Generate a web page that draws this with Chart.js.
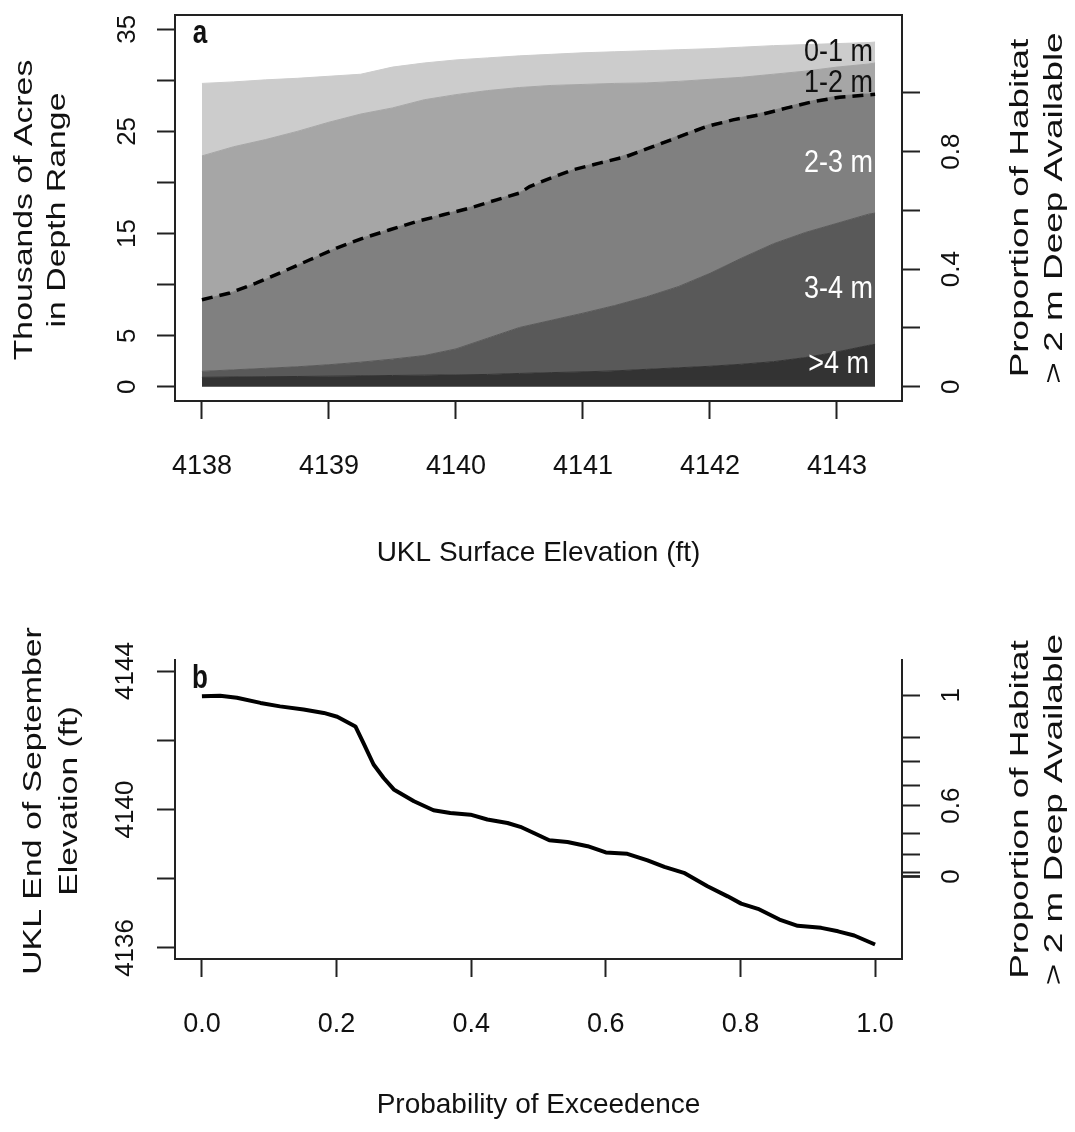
<!DOCTYPE html>
<html>
<head>
<meta charset="utf-8">
<title>UKL depth habitat</title>
<script src="https://cdn.jsdelivr.net/npm/chart.js@4.4.1/dist/chart.umd.min.js"></script>
<style>
  html, body { margin: 0; padding: 0; background: #fff; }
  canvas { display: block; }
</style>
</head>
<body>
<canvas id="chartA" width="1075" height="580"></canvas>
<canvas id="chartB" width="1075" height="552"></canvas>
<script>
const FONT = '"Liberation Sans", Arial, Helvetica, sans-serif';
const INK = '#222';

// ---------- panel a: thousands of acres in each depth range ----------
const elevA     = [4138, 4138.25, 4138.5, 4138.75, 4139, 4139.25, 4139.5, 4139.75, 4140, 4140.25, 4140.5, 4140.75,
                   4141, 4141.25, 4141.5, 4141.75, 4142, 4142.25, 4142.5, 4142.75, 4143, 4143.25, 4143.3];
const acresGt4  = [0.92, 0.95, 0.98, 1.0, 1.03, 1.06, 1.1, 1.13, 1.16, 1.2, 1.3, 1.38, 1.45, 1.55, 1.7, 1.85, 2.0, 2.2, 2.45, 2.85, 3.4, 4.05, 4.15];
const acres3to4 = [0.58, 0.70, 0.82, 0.95, 1.12, 1.34, 1.6, 1.92, 2.54, 3.55, 4.5, 5.12, 5.75, 6.4, 7.1, 7.95, 9.1, 10.4, 11.55, 12.25, 12.6, 12.85, 12.85];
const acres2to3 = [6.98, 7.63, 8.7, 9.92, 11.11, 12.1, 12.78, 13.35, 13.47, 13.3, 13.2, 14.0, 14.35, 14.38, 14.57, 14.76, 14.6, 13.78, 13.06, 12.75, 12.46, 11.78, 11.7];
const acres1to2 = [14.12, 14.22, 13.7, 13.13, 12.64, 12.2, 11.82, 11.7, 11.43, 10.95, 10.3, 9.0, 8.05, 7.37, 6.38, 5.34, 4.4, 3.92, 3.54, 3.05, 2.84, 2.92, 3.0];
const acres0to1 = [7.1, 6.35, 5.85, 5.2, 4.5, 3.9, 4.0, 3.6, 3.4, 3.2, 3.1, 3.05, 3.1, 3.1, 3.15, 3.1, 3.0, 2.95, 2.8, 2.6, 2.3, 2.1, 2.05];

// proportion of habitat deeper than 2 m (dashed line, right axis)
const propElev = [4138.00, 4138.22, 4138.43, 4138.64, 4138.85, 4139.06, 4139.27, 4139.48, 4139.69, 4139.90, 4140.11, 4140.32, 4140.50, 4140.58,
                  4140.71, 4140.92, 4141.13, 4141.34, 4141.55, 4141.76, 4141.97, 4142.18, 4142.39, 4142.60, 4142.81, 4143.02, 4143.30];
const propDeep = [0.296, 0.319, 0.353, 0.392, 0.432, 0.472, 0.506, 0.534, 0.562, 0.585, 0.608, 0.636, 0.659, 0.681,
                  0.704, 0.738, 0.761, 0.783, 0.817, 0.851, 0.885, 0.908, 0.925, 0.948, 0.970, 0.985, 0.995];

const elevTicksA  = [4138, 4139, 4140, 4141, 4142, 4143];
const acreTicks   = [0, 5, 10, 15, 20, 25, 30, 35];
const acreLabels  = [0, 5, 15, 25, 35];
const propTicksA  = [0, 0.2, 0.4, 0.6, 0.8, 1];
const propLabelsA = [0, 0.4, 0.8];

// ---------- panel b: end of September elevation exceedence ----------
const exceedProb = [0, 0.027, 0.052, 0.087, 0.116, 0.151, 0.181, 0.201, 0.228, 0.240, 0.255, 0.270, 0.285, 0.315, 0.344, 0.369, 0.399,
                    0.424, 0.454, 0.473, 0.493, 0.516, 0.543, 0.573, 0.600, 0.632, 0.662, 0.687, 0.716, 0.751, 0.781, 0.801, 0.826,
                    0.858, 0.885, 0.920, 0.945, 0.969, 1.0];
const septElev   = [4143.27, 4143.29, 4143.23, 4143.08, 4142.98, 4142.89, 4142.79, 4142.68, 4142.40, 4141.92, 4141.30, 4140.91, 4140.58,
                    4140.24, 4139.98, 4139.90, 4139.85, 4139.71, 4139.61, 4139.50, 4139.32, 4139.11, 4139.06, 4138.94, 4138.76, 4138.72,
                    4138.53, 4138.34, 4138.17, 4137.78, 4137.49, 4137.28, 4137.13, 4136.82, 4136.64, 4136.58, 4136.48, 4136.36, 4136.10];

const probTicks  = [0, 0.2, 0.4, 0.6, 0.8, 1];
const septTicks  = [4136, 4138, 4140, 4142, 4144];
const septLabels = [4136, 4140, 4144];
// right axis of b: habitat proportion levels and the elevation where each is reached
const habLevels    = [0, 0.1, 0.2, 0.3, 0.4, 0.5, 0.6, 0.7, 0.8, 0.9, 1];
const habLevelElev = [4138.06, 4138.06, 4138.06, 4138.18, 4138.71, 4139.31, 4140.11, 4140.69, 4141.39, 4142.09, 4143.3];
const habLabels    = [0, 0.6, 1];

Chart.defaults.font.family = FONT;
Chart.defaults.color = '#111';

// fixed axis sizes so both panels line up like the original figure
function fixSize(size) {
  return s => {
    if (s.isHorizontal()) s.height = size; else s.width = size;
    s.paddingLeft = s.paddingRight = s.paddingTop = s.paddingBottom = 0;
  };
}
function useTicks(values) {
  return s => { s.ticks = values.map(v => ({ value: v })); };
}
const tickMarks = { drawOnChartArea: false, drawTicks: true, tickLength: 18, tickWidth: 2, color: INK, tickColor: INK };
const axisLine = { display: true, color: INK, width: 2 };

function upText(ctx, lines, cx, cy, size, stretch, gap) {
  ctx.save();
  ctx.translate(cx, cy);
  ctx.rotate(-Math.PI / 2);
  ctx.scale(stretch, 1);
  ctx.font = size + 'px ' + FONT;
  ctx.fillStyle = '#111';
  ctx.textAlign = 'center';
  ctx.textBaseline = 'middle';
  lines.forEach((t, i) => ctx.fillText(t, 0, (i - (lines.length - 1) / 2) * gap));
  ctx.restore();
}
function flatText(ctx, str, x, y, font, color, align, vstretch) {
  ctx.save();
  ctx.translate(x, y);
  ctx.scale(1, vstretch);
  ctx.font = font;
  ctx.fillStyle = color;
  ctx.textAlign = align;
  ctx.textBaseline = 'middle';
  ctx.fillText(str, 0, 0);
  ctx.restore();
}

const layerLabels = [
  { text: '0-1 m', at: 32.7, color: '#111' },
  { text: '1-2 m', at: 29.7, color: '#111' },
  { text: '2-3 m', at: 21.9, color: '#fff' },
  { text: '3-4 m', at: 9.5,  color: '#fff' },
  { text: '>4 m',  at: 2.2,  color: '#fff', shift: -4 }
];

const decorA = {
  id: 'decorA',
  afterDraw(chart) {
    const { ctx, chartArea: a, scales } = chart;
    ctx.save();
    ctx.strokeStyle = INK;
    ctx.lineWidth = 2;
    ctx.beginPath();
    ctx.moveTo(a.left - 1, a.top);
    ctx.lineTo(a.right + 1, a.top);
    ctx.stroke();
    ctx.restore();

    const xr = scales.x.getPixelForValue(4143.3) - 2;
    layerLabels.forEach(l => {
      flatText(ctx, l.text, xr + (l.shift || 0), scales.y.getPixelForValue(l.at), '27px ' + FONT, l.color, 'right', 1.15);
    });
    flatText(ctx, 'a', a.left + 25, a.top + 19, 'bold 26px ' + FONT, '#111', 'center', 1.3);

    upText(ctx, ['Thousands of Acres', 'in Depth Range'], 41.5, 210, 26, 1.3, 33);
    upText(ctx, ['Proportion of Habitat', '> 2 m Deep Available'], 1038, (a.top + a.bottom) / 2, 26, 1.42, 34);
  }
};

const decorB = {
  id: 'decorB',
  afterDraw(chart) {
    const { ctx, chartArea: a } = chart;
    flatText(ctx, 'b', a.left + 25, a.top + 19, 'bold 26px ' + FONT, '#111', 'center', 1.3);
    upText(ctx, ['UKL End of September', 'Elevation (ft)'], 52, 221, 26, 1.3, 36);
    upText(ctx, ['Proportion of Habitat', '> 2 m Deep Available'], 1038, (a.top + a.bottom) / 2, 26, 1.42, 34);
  }
};

function layer(values, color, fill) {
  return {
    data: elevA.map((e, i) => ({ x: e, y: values[i] })),
    yAxisID: 'y',
    backgroundColor: color,
    borderColor: color,
    borderWidth: 1,
    pointRadius: 0,
    fill: fill
  };
}

new Chart(document.getElementById('chartA'), {
  type: 'line',
  data: {
    datasets: [
      layer(acresGt4, '#333333', 'origin'),
      layer(acres3to4, '#595959', '-1'),
      layer(acres2to3, '#808080', '-1'),
      layer(acres1to2, '#a6a6a6', '-1'),
      layer(acres0to1, '#cccccc', '-1'),
      {
        data: propElev.map((e, i) => ({ x: e, y: propDeep[i] })),
        yAxisID: 'y2',
        borderColor: '#000',
        borderWidth: 3.5,
        borderDash: [11, 7],
        pointRadius: 0,
        fill: false,
        order: -1
      }
    ]
  },
  options: {
    responsive: false,
    animation: false,
    events: [],
    layout: { padding: { top: 15, left: 0, right: 0, bottom: 0 } },
    plugins: { legend: { display: false }, tooltip: { enabled: false } },
    scales: {
      x: {
        type: 'linear', position: 'bottom', min: 4137.788, max: 4143.512, bounds: 'data',
        afterFit: fixSize(179), afterBuildTicks: useTicks(elevTicksA),
        grid: tickMarks, border: axisLine,
        ticks: { autoSkip: false, maxRotation: 0, padding: 31, font: { size: 27 }, callback: v => String(v) },
        title: { display: true, text: 'UKL Surface Elevation (ft)', font: { size: 28, lineHeight: 1 }, padding: { top: 0, bottom: 13 } }
      },
      y: {
        type: 'linear', position: 'left', stacked: true, min: -1.4, max: 36.4, bounds: 'data',
        afterFit: fixSize(175), afterBuildTicks: useTicks(acreTicks),
        grid: tickMarks, border: axisLine,
        ticks: { autoSkip: false, minRotation: 90, maxRotation: 90, crossAlign: 'center', padding: 15, font: { size: 26 },
                 callback: v => acreLabels.includes(v) ? String(v) : '' }
      },
      y2: {
        type: 'linear', position: 'right', min: -0.0487, max: 1.265, bounds: 'data',
        afterFit: fixSize(173), afterBuildTicks: useTicks(propTicksA),
        grid: tickMarks, border: axisLine,
        ticks: { autoSkip: false, minRotation: 90, maxRotation: 90, crossAlign: 'center', padding: 14, font: { size: 26 },
                 callback: v => propLabelsA.includes(v) ? String(v) : '' }
      }
    }
  },
  plugins: [decorA]
});

new Chart(document.getElementById('chartB'), {
  type: 'line',
  data: {
    datasets: [{
      data: exceedProb.map((p, i) => ({ x: p, y: septElev[i] })),
      yAxisID: 'y',
      borderColor: '#000',
      borderWidth: 4,
      borderJoinStyle: 'round',
      pointRadius: 0,
      fill: false
    }]
  },
  options: {
    responsive: false,
    animation: false,
    events: [],
    layout: { padding: { top: 80, left: 0, right: 0, bottom: 0 } },
    plugins: { legend: { display: false }, tooltip: { enabled: false } },
    scales: {
      x: {
        type: 'linear', position: 'bottom', min: -0.04, max: 1.04, bounds: 'data',
        afterFit: fixSize(173), afterBuildTicks: useTicks(probTicks),
        grid: tickMarks, border: axisLine,
        ticks: { autoSkip: false, maxRotation: 0, padding: 31, font: { size: 27 }, callback: v => v.toFixed(1) },
        title: { display: true, text: 'Probability of Exceedence', font: { size: 28, lineHeight: 1 }, padding: { top: 0, bottom: 13 } }
      },
      y: {
        type: 'linear', position: 'left', min: 4135.68, max: 4144.32, bounds: 'data',
        afterFit: fixSize(175), afterBuildTicks: useTicks(septTicks),
        grid: tickMarks, border: axisLine,
        ticks: { autoSkip: false, minRotation: 90, maxRotation: 90, crossAlign: 'center', padding: 2, font: { size: 26 },
                 callback: v => septLabels.includes(v) ? String(v) : '' }
      },
      y2: {
        type: 'linear', position: 'right', min: 4135.68, max: 4144.32, bounds: 'data',
        afterFit: fixSize(173), afterBuildTicks: useTicks(habLevelElev),
        grid: tickMarks, border: axisLine,
        ticks: { autoSkip: false, minRotation: 90, maxRotation: 90, crossAlign: 'center', padding: 14, font: { size: 26 },
                 callback: (v, i) => habLabels.includes(habLevels[i]) ? String(habLevels[i]) : '' }
      }
    }
  },
  plugins: [decorB]
});
</script>
</body>
</html>
